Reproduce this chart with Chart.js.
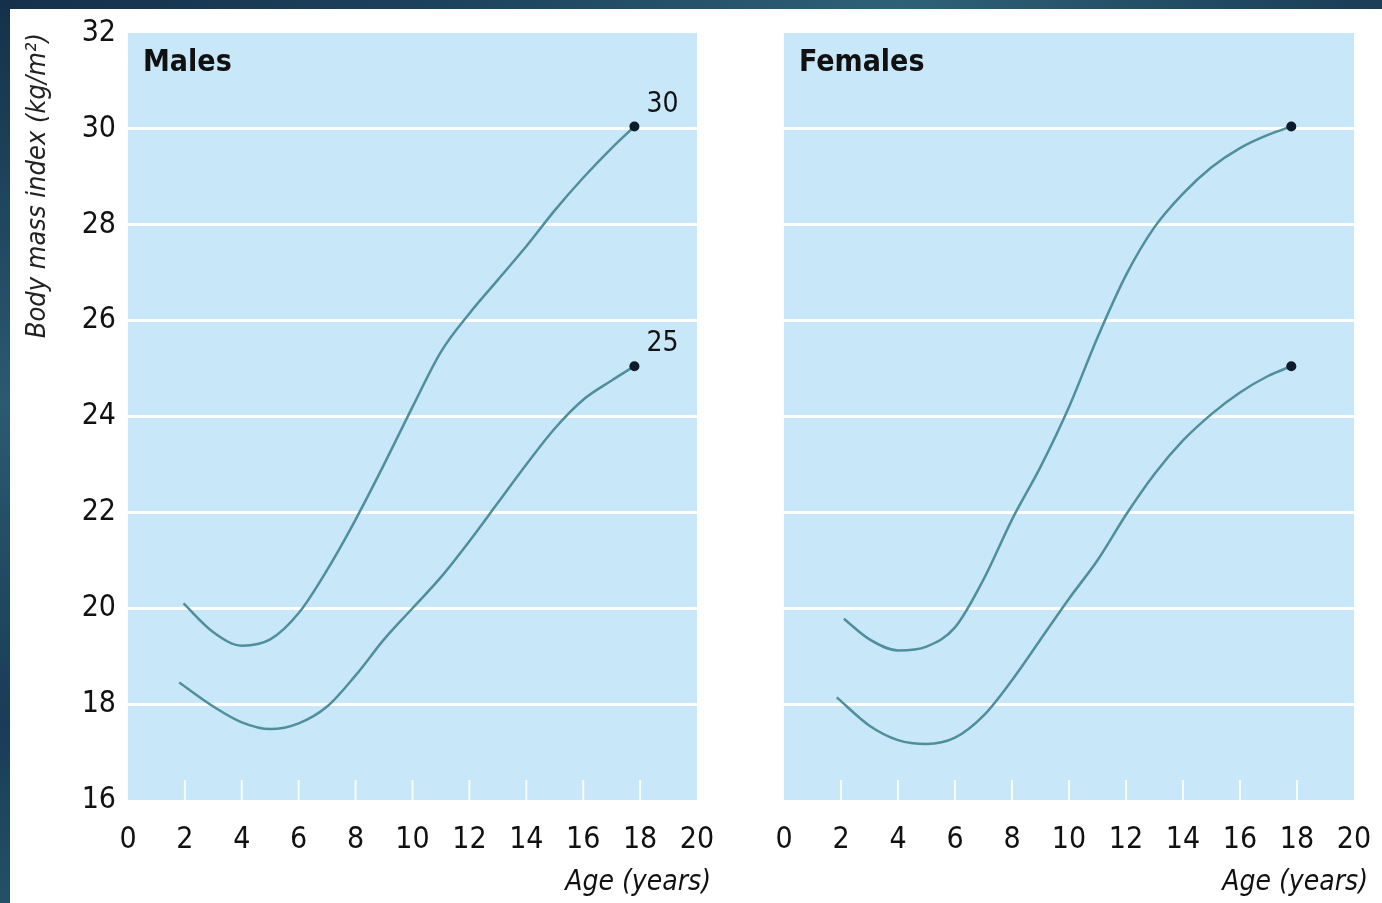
<!DOCTYPE html>
<html>
<head>
<meta charset="utf-8">
<script src="https://cdn.jsdelivr.net/npm/chart.js@4.4.1/dist/chart.umd.min.js"></script>
<style>
  html, body { margin: 0; padding: 0; }
  body { width: 1382px; height: 903px; background: #fff; position: relative; overflow: hidden; }
  .edge-top { position: absolute; left: 0; top: 0; width: 1382px; height: 9px;
    background: linear-gradient(90deg, #15304a, #1e4460 35%, #2e6177 65%, #1b3d57); }
  .edge-left { position: absolute; left: 0; top: 0; width: 10px; height: 903px;
    background: linear-gradient(180deg, #15304a, #2b5a72 45%, #1a3c56 80%, #24506a); }
  #malesBox { position: absolute; left: 10px; top: 9px; width: 710px; height: 894px; }
  #femalesBox { position: absolute; left: 720px; top: 9px; width: 662px; height: 894px; }
</style>
</head>
<body>
<div class="edge-top"></div>
<div class="edge-left"></div>
<div id="malesBox"><canvas id="malesChart"></canvas></div>
<div id="femalesBox"><canvas id="femalesChart"></canvas></div>

<script>
// ages (years) and BMI values
const maleUpperAge = [1.95, 3, 4, 5, 6, 7, 8, 9, 10, 11, 12, 13, 14, 15, 16, 17, 17.8];
const maleUpperBmi = [20.1, 19.5, 19.22, 19.35, 19.9, 20.8, 21.85, 23.0, 24.2, 25.35, 26.15, 26.85, 27.55, 28.3, 28.98, 29.6, 30.05];
const maleLowerAge = [1.8, 3, 4, 5, 6, 7, 8, 9, 10, 11, 12, 13, 14, 15, 16, 17, 17.8];
const maleLowerBmi = [18.45, 17.95, 17.62, 17.48, 17.6, 17.95, 18.6, 19.35, 20.0, 20.65, 21.4, 22.2, 23.0, 23.75, 24.35, 24.75, 25.05];

const femaleUpperAge = [2.1, 3, 4, 5, 6, 7, 8, 9, 10, 11, 12, 13, 14, 15, 16, 17, 17.8];
const femaleUpperBmi = [19.78, 19.35, 19.12, 19.2, 19.6, 20.6, 21.85, 22.95, 24.2, 25.65, 26.95, 27.95, 28.65, 29.2, 29.6, 29.88, 30.05];
const femaleLowerAge = [1.85, 3, 4, 5, 6, 7, 8, 9, 10, 11, 12, 13, 14, 15, 16, 17, 17.8];
const femaleLowerBmi = [18.14, 17.55, 17.25, 17.17, 17.3, 17.76, 18.5, 19.35, 20.2, 21.0, 21.95, 22.8, 23.5, 24.05, 24.5, 24.85, 25.05];

const endLabels = ["30", "25"];
const yTicks = [16, 18, 20, 22, 24, 26, 28, 30, 32];
const xTicks = [0, 2, 4, 6, 8, 10, 12, 14, 16, 18, 20];

const FONT = "'Liberation Sans Narrow', 'DejaVu Sans Condensed', 'Arial Narrow', sans-serif";
const LINE = "#4f8f9c";
const DOT = "#0e1b2d";

// scale label overflow would push the plot area around, so drop it
function noScalePadding(s) {
  s.paddingTop = 0;
  s.paddingBottom = 0;
  s.paddingLeft = 0;
  s.paddingRight = 0;
}

class BmiPanel {
  constructor(canvasId, opts) {
    this.ctx = document.getElementById(canvasId).getContext("2d");
    this.opts = opts;
  }

  toPoints(ages, values) {
    return ages.map((a, i) => ({ x: a, y: values[i] }));
  }

  lineSet(ages, values) {
    let last = ages.length - 1;
    return {
      data: this.toPoints(ages, values),
      borderColor: LINE,
      borderWidth: 2.5,
      cubicInterpolationMode: "monotone",
      pointRadius: (c) => (c.dataIndex === last ? 5 : 0),
      pointBackgroundColor: DOT,
      pointBorderWidth: 0,
    };
  }

  // light blue plot area + short white ticks on the bottom edge
  backgroundPlugin() {
    return {
      id: "panelBg",
      beforeDraw(chart) {
        let { ctx, chartArea: a } = chart;
        ctx.save();
        ctx.fillStyle = "#c8e7f8";
        ctx.fillRect(a.left, a.top, a.right - a.left, a.bottom - a.top);
        ctx.restore();
      },
      beforeDatasetsDraw(chart) {
        let { ctx, chartArea: a, scales } = chart;
        ctx.save();
        ctx.strokeStyle = "rgba(255,255,255,0.85)";
        ctx.lineWidth = 2;
        xTicks.forEach((t) => {
          if (t === 0 || t === 20) return;
          let px = scales.x.getPixelForValue(t);
          ctx.beginPath();
          ctx.moveTo(px, a.bottom);
          ctx.lineTo(px, a.bottom - 20);
          ctx.stroke();
        });
        ctx.restore();
      },
    };
  }

  textPlugin() {
    let opts = this.opts;
    return {
      id: "panelText",
      afterDraw(chart) {
        let { ctx, chartArea: a } = chart;
        ctx.save();
        ctx.fillStyle = "#111";
        ctx.textBaseline = "middle";
        ctx.font = "bold 30px " + FONT;
        ctx.textAlign = "left";
        ctx.fillText(opts.title, a.left + 15, a.top + 30);

        ctx.font = "italic 28px " + FONT;
        ctx.textAlign = "right";
        ctx.fillText("Age (years)", a.right + 14, a.bottom + 83);

        if (opts.showEndLabels) {
          ctx.font = "28px " + FONT;
          ctx.textAlign = "center";
          chart.data.datasets.forEach((ds, i) => {
            let el = chart.getDatasetMeta(i).data[ds.data.length - 1];
            ctx.fillText(endLabels[i], el.x + 28, el.y - 22);
          });
        }
        ctx.restore();
      },
    };
  }

  build() {
    let o = this.opts;
    return new Chart(this.ctx, {
      type: "line",
      data: {
        datasets: [this.lineSet(o.upperAge, o.upperBmi), this.lineSet(o.lowerAge, o.lowerBmi)],
      },
      options: {
        responsive: true,
        maintainAspectRatio: false,
        animation: false,
        layout: { padding: { top: 24, right: o.padRight, left: 0, bottom: 0 } },
        plugins: { legend: { display: false }, tooltip: { enabled: false } },
        scales: {
          x: {
            type: "linear",
            min: 0,
            max: 20,
            afterBuildTicks: (s) => { s.ticks = xTicks.map((v) => ({ value: v })); },
            afterFit: (s) => { s.height = 103; noScalePadding(s); },
            grid: { display: false },
            border: { display: false },
            ticks: { color: "#111", padding: 14, font: { family: FONT, size: 30 } },
          },
          y: {
            min: 16,
            max: 32,
            afterBuildTicks: (s) => { s.ticks = yTicks.map((v) => ({ value: v })); },
            afterFit: (s) => { s.width = o.yWidth; noScalePadding(s); },
            grid: {
              drawTicks: false,
              lineWidth: 3,
              color: (c) => (c.tick && c.tick.value > 16 && c.tick.value < 32 ? "#ffffff" : "rgba(0,0,0,0)"),
            },
            border: { display: false },
            ticks: { display: o.showYLabels, color: "#111", padding: 12, font: { family: FONT, size: 30 } },
            title: {
              display: o.showYLabels,
              text: "Body mass index (kg/m²)",
              align: "end",
              color: "#222",
              padding: { top: 12, bottom: 0 },
              font: { family: FONT, size: 27, style: "italic" },
            },
          },
        },
      },
      plugins: [this.backgroundPlugin(), this.textPlugin()],
    });
  }
}

new BmiPanel("malesChart", {
  title: "Males",
  upperAge: maleUpperAge, upperBmi: maleUpperBmi,
  lowerAge: maleLowerAge, lowerBmi: maleLowerBmi,
  showYLabels: true, showEndLabels: true,
  yWidth: 118, padRight: 23,
}).build();

new BmiPanel("femalesChart", {
  title: "Females",
  upperAge: femaleUpperAge, upperBmi: femaleUpperBmi,
  lowerAge: femaleLowerAge, lowerBmi: femaleLowerBmi,
  showYLabels: false, showEndLabels: false,
  yWidth: 64, padRight: 28,
}).build();
</script>
</body>
</html>
